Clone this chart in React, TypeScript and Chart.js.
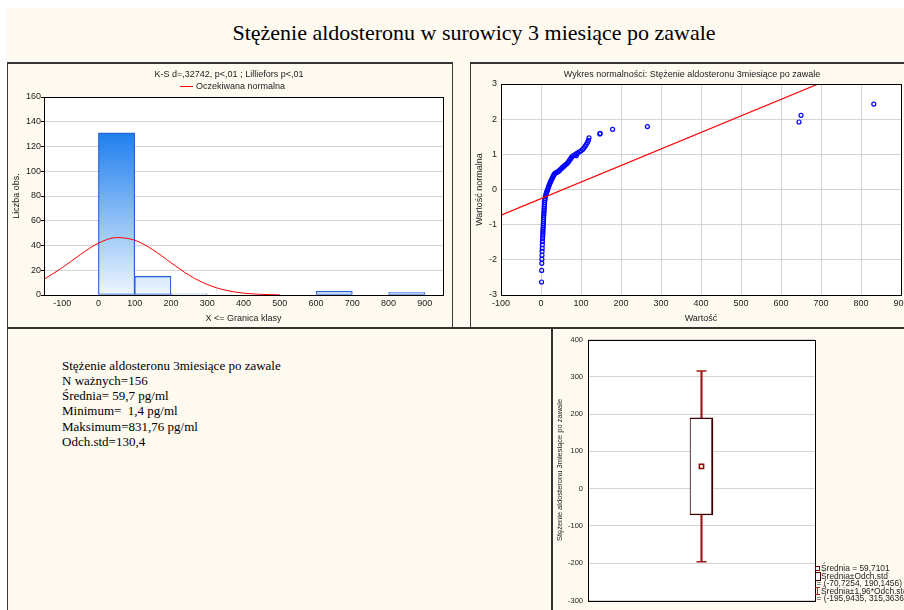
import React, { useEffect, useRef } from 'react';
import { Chart, registerables } from 'chart.js';

Chart.register(...registerables);

// ---------- Data ----------
const histBinCenters = [50, 150, 250, 650, 850];
const histCounts = [131, 15, 1, 3, 2];
const histXTicks = [-100, 0, 100, 200, 300, 400, 500, 600, 700, 800, 900];

const normalCurveX = [-150, -100, -50, 0, 50, 100, 150, 200, 250, 300, 350, 400, 450, 500];
const normalCurveY = [12.7, 22.0, 32.6, 41.9, 46.4, 44.3, 36.6, 26.1, 16.0, 8.5, 3.9, 1.5, 0.5, 0.15];

const probValues = [
  1.4, 1.7, 2.0, 2.2, 2.5, 2.7, 3.0, 3.3, 3.6, 3.9, 4.2, 4.5, 4.8, 5.0, 5.3, 5.6, 5.8, 6.1, 6.4, 6.7,
  7.0, 7.3, 7.6, 7.9, 8.2, 8.6, 9.0, 9.5, 10.0, 10.8, 11.7, 12.8, 14.0, 15.2, 16.5, 17.8, 19.2, 20.6,
  22.0, 23.5, 25.0, 26.7, 28.5, 30.0, 31.5, 33.0, 35.0, 38.0, 41.0, 44.0, 47.0, 50.0, 53.0, 56.0, 59.0,
  62.0, 65.0, 68.0, 70.0, 72.5, 75.0, 77.0, 80.0, 85.0, 88.0, 89.0, 92.0, 96.0, 100.0, 104.0, 107.0,
  110.0, 113.0, 116.0, 118.5, 120.0, 147.0, 148.0, 179.0, 266.0, 645.0, 650.0, 832.0,
];
const probScores = [
  -2.63, -2.30, -2.10, -1.98, -1.87, -1.76, -1.67, -1.57, -1.48, -1.40, -1.33, -1.27, -1.21, -1.15, -1.09,
  -1.03, -0.97, -0.91, -0.85, -0.79, -0.73, -0.67, -0.61, -0.55, -0.49, -0.43, -0.37, -0.31, -0.26, -0.21,
  -0.17, -0.12, -0.08, -0.04, 0.0, 0.04, 0.09, 0.13, 0.17, 0.21, 0.25, 0.29, 0.33, 0.37, 0.40, 0.43, 0.46,
  0.48, 0.50, 0.52, 0.55, 0.59, 0.62, 0.65, 0.68, 0.71, 0.74, 0.78, 0.81, 0.85, 0.89, 0.93, 0.96, 0.99,
  0.96, 1.02, 1.04, 1.07, 1.10, 1.14, 1.18, 1.23, 1.28, 1.34, 1.40, 1.47, 1.58, 1.60, 1.71, 1.79, 1.92,
  2.11, 2.43,
];
const refLineX = [-100, 693];
const refLineY = [-0.73, 3.0];

const boxMean = 59.7101;
const boxSdRange = [-70.7254, 190.1456];
const boxCiRange = [-195.9435, 315.3636];

const statsLines = [
  'Stężenie aldosteronu 3miesiące po zawale',
  'N ważnych=156',
  'Średnia= 59,7 pg/ml',
  'Minimum=  1,4 pg/ml',
  'Maksimum=831,76 pg/ml',
  'Odch.std=130,4',
];

// ---------- Helpers ----------
const SANS = "'Liberation Sans', Arial, sans-serif";
const SERIF = "'Liberation Serif', 'Times New Roman', serif";
Chart.defaults.font.family = SANS;
Chart.defaults.color = '#222';

function makeFrame(width: number) {
  return {
    id: 'frame',
    beforeDraw(chart: any) {
      const { ctx, chartArea: a } = chart;
      ctx.save();
      ctx.fillStyle = '#ffffff';
      ctx.fillRect(a.left, a.top, a.right - a.left, a.bottom - a.top);
      ctx.restore();
    },
    afterDraw(chart: any) {
      const { ctx, chartArea: a } = chart;
      ctx.save();
      ctx.strokeStyle = '#000';
      ctx.lineWidth = width;
      const off = width % 2 === 1 ? 0.5 : 0;
      const l = Math.round(a.left) + off, t = Math.round(a.top) + off;
      const r = Math.round(a.right) + off, b = Math.round(a.bottom) + off;
      ctx.strokeRect(l, t, r - l, b - t);
      ctx.restore();
    },
  };
}

const baseOpts = {
  responsive: false,
  animation: false as const,
  devicePixelRatio: 1,
  events: [] as any[],
};

export default function App() {
  const histRef = useRef<HTMLCanvasElement>(null);
  const probRef = useRef<HTMLCanvasElement>(null);
  const boxRef = useRef<HTMLCanvasElement>(null);

  useEffect(() => {
    const charts: Chart[] = [];
    const maxCount = Math.max(...histCounts);

    charts.push(
      new Chart(histRef.current!, {
        type: 'bar',
        data: {
          datasets: [
            {
              type: 'line',
              data: normalCurveX.map((x, i) => ({ x, y: normalCurveY[i] })),
              borderColor: '#ff0000',
              borderWidth: 1,
              pointRadius: 0,
              cubicInterpolationMode: 'monotone',
              fill: false,
            } as any,
            {
              type: 'bar',
              data: histBinCenters.map((x, i) => ({ x, y: histCounts[i] })),
              backgroundColor: (c: any) => {
                const chart = c.chart;
                if (!chart.chartArea) return '#8cc4fa';
                const ys = chart.scales.y;
                const g = chart.ctx.createLinearGradient(0, ys.getPixelForValue(maxCount), 0, ys.getPixelForValue(0));
                g.addColorStop(0, '#1f7fee');
                g.addColorStop(1, '#eef6ff');
                return g;
              },
              borderColor: '#2461d4',
              borderWidth: 1.2,
              borderSkipped: false,
              categoryPercentage: 1,
              barPercentage: 1,
              grouped: false,
            } as any,
          ],
        },
        options: {
          ...baseOpts,
          layout: { padding: { left: 0, top: 33, right: 8, bottom: 0 } },
          plugins: { legend: { display: false }, tooltip: { enabled: false } },
          scales: {
            x: {
              type: 'linear',
              min: -150,
              max: 950,
              offset: false,
              afterBuildTicks: (s: any) => {
                s.ticks = histXTicks.map((v) => ({ value: v }));
              },
              grid: { display: false, offset: false, drawTicks: false },
              border: { display: false },
              ticks: { font: { size: 9 }, padding: 3, maxRotation: 0, autoSkip: false },
              title: { display: true, text: 'X <= Granica klasy', font: { size: 9 }, padding: { top: 0, bottom: 3 } },
              afterFit: (s: any) => {
                s.height = 32;
              },
            },
            y: {
              min: 0,
              max: 160,
              ticks: { stepSize: 20, font: { size: 9 }, padding: 0 },
              grid: { color: '#d4d4d4', lineWidth: 1, drawTicks: true, tickLength: 3, tickColor: '#000' },
              border: { display: false },
              title: { display: true, text: 'Liczba obs.', font: { size: 9 }, padding: { top: 3, bottom: 0 } },
              afterFit: (s: any) => {
                s.width = 36;
              },
            },
          } as any,
        },
        plugins: [makeFrame(1)],
      })
    );

    charts.push(
      new Chart(probRef.current!, {
        type: 'scatter',
        data: {
          datasets: [
            {
              type: 'line',
              data: refLineX.map((x, i) => ({ x, y: refLineY[i] })),
              borderColor: '#ff0000',
              borderWidth: 1.2,
              pointRadius: 0,
              fill: false,
            } as any,
            {
              data: probValues.map((x, i) => ({ x, y: probScores[i] })),
              pointStyle: 'circle',
              pointRadius: 2,
              borderWidth: 1.2,
              borderColor: '#0000ff',
              backgroundColor: 'rgba(0,0,0,0)',
            } as any,
          ],
        },
        options: {
          ...baseOpts,
          layout: { padding: { left: 0, top: 20, right: 20, bottom: 0 } },
          plugins: { legend: { display: false }, tooltip: { enabled: false } },
          scales: {
            x: {
              type: 'linear',
              min: -100,
              max: 900,
              ticks: { stepSize: 100, font: { size: 9 }, padding: 3, maxRotation: 0, autoSkip: false },
              grid: { color: '#d4d4d4', lineWidth: 1, drawTicks: false },
              border: { display: false },
              title: { display: true, text: 'Wartość', font: { size: 9 }, padding: { top: 0, bottom: 3 } },
              afterFit: (s: any) => {
                s.height = 32;
              },
            },
            y: {
              type: 'linear',
              min: -3,
              max: 3,
              ticks: { stepSize: 1, font: { size: 9 }, padding: 4 },
              grid: { color: '#d4d4d4', lineWidth: 1, drawTicks: false },
              border: { display: false },
              title: { display: true, text: 'Wartość normalna', font: { size: 9 }, padding: { top: 3, bottom: 0 } },
              afterFit: (s: any) => {
                s.width = 30;
              },
            },
          } as any,
        },
        plugins: [makeFrame(1)],
      })
    );

    charts.push(
      new Chart(boxRef.current!, {
        type: 'bar',
        data: {
          labels: [''],
          datasets: [
            {
              type: 'line',
              data: [boxMean],
              showLine: false,
              pointStyle: 'rect',
              pointRadius: 3,
              borderColor: '#8b0000',
              backgroundColor: '#ffffff',
              borderWidth: 1.5,
            } as any,
            {
              type: 'bar',
              data: [boxSdRange],
              backgroundColor: '#ffffff',
              borderColor: '#3a0000',
              borderWidth: { left: 1, top: 1.5, bottom: 1.5, right: 2 },
              borderSkipped: false,
              barThickness: 23,
              grouped: false,
            } as any,
            {
              type: 'line',
              data: [boxCiRange[1]],
              showLine: false,
              pointStyle: 'line',
              pointRadius: 5,
              borderColor: '#a01818',
              borderWidth: 1.5,
            } as any,
            {
              type: 'line',
              data: [boxCiRange[0]],
              showLine: false,
              pointStyle: 'line',
              pointRadius: 5,
              borderColor: '#a01818',
              borderWidth: 1.5,
            } as any,
            {
              type: 'bar',
              data: [boxCiRange],
              backgroundColor: '#a01818',
              borderWidth: 0,
              barThickness: 1.5,
              grouped: false,
            } as any,
          ],
        },
        options: {
          ...baseOpts,
          layout: { padding: { left: 0, top: 7, right: 89, bottom: 5 } },
          plugins: { legend: { display: false }, tooltip: { enabled: false } },
          scales: {
            x: { display: false },
            y: {
              min: -300,
              max: 400,
              ticks: { stepSize: 100, font: { size: 7.5 }, padding: 5 },
              grid: { color: '#d4d4d4', lineWidth: 1, drawTicks: false },
              border: { display: false },
              title: {
                display: true,
                text: 'Stężenie aldosteronu 3miesiące po zawale',
                font: { size: 7.5 },
                padding: { top: 2.5, bottom: 0 },
              },
              afterFit: (s: any) => {
                s.width = 35;
              },
            },
          } as any,
        },
        plugins: [makeFrame(1)],
      })
    );

    return () => charts.forEach((c) => c.destroy());
  }, []);

  const abs = (o: React.CSSProperties): React.CSSProperties => ({ position: 'absolute', ...o });
  const panelBorder = '1px solid #3a3a3a';
  const legendText: React.CSSProperties = {
    fontSize: '8.4px',
    lineHeight: '8px',
    whiteSpace: 'nowrap',
    color: '#222',
    fontFamily: SANS,
  };

  return (
    <div style={abs({ left: 0, top: 0, width: 904, height: 610, overflow: 'hidden', background: '#ffffff', fontFamily: SANS })}>
      <div style={abs({ left: 7, top: 8, width: 1000, height: 700, background: '#fffaf0' })} />

      <div
        style={abs({
          left: 174,
          top: 20,
          width: 600,
          textAlign: 'center',
          fontFamily: SERIF,
          fontSize: 22,
          lineHeight: '26px',
          color: '#000',
          whiteSpace: 'nowrap',
        })}
      >
        Stężenie aldosteronu w surowicy 3 miesiące po zawale
      </div>

      {/* Panel frames */}
      <div style={abs({ left: 7, top: 62, width: 446, height: 267, boxSizing: 'border-box', border: panelBorder, borderTop: '2px solid #333' })} />
      <div style={abs({ left: 470, top: 62, width: 460, height: 267, boxSizing: 'border-box', border: panelBorder, borderTop: '2px solid #333' })} />
      <div style={abs({ left: 7, top: 327, width: 546, height: 300, boxSizing: 'border-box', borderTop: '2px solid #333', borderLeft: panelBorder })} />
      <div style={abs({ left: 551, top: 327, width: 400, height: 300, boxSizing: 'border-box', borderTop: '2px solid #333', borderLeft: '2px solid #333' })} />

      {/* Panel 1 */}
      <canvas ref={histRef} width={443} height={263} style={abs({ left: 8, top: 64, display: 'block' })} />
      <div style={abs({ left: 29, top: 68.5, width: 400, textAlign: 'center', fontSize: 9, lineHeight: '11px', color: '#222', whiteSpace: 'nowrap' })}>
        K-S d=,32742, p&lt;,01 ; Lilliefors p&lt;,01
      </div>
      <div style={abs({ left: 180, top: 85.5, width: 13, height: 1, background: '#ff0000' })} />
      <div style={abs({ left: 196, top: 80.5, fontSize: 9, lineHeight: '11px', color: '#222', whiteSpace: 'nowrap' })}>Oczekiwana normalna</div>

      {/* Panel 2 */}
      <canvas ref={probRef} width={450} height={263} style={abs({ left: 471, top: 64, display: 'block' })} />
      <div style={abs({ left: 492, top: 68.5, width: 400, textAlign: 'center', fontSize: 9, lineHeight: '11px', color: '#222', whiteSpace: 'nowrap' })}>
        Wykres normalności: Stężenie aldosteronu 3miesiące po zawale
      </div>

      {/* Panel 3 */}
      <div style={abs({ left: 62, top: 357.5, fontFamily: SERIF, fontSize: 13, lineHeight: '15.3px', color: '#000', whiteSpace: 'pre' })}>
        {statsLines.map((l, i) => (
          <div key={i}>{l}</div>
        ))}
      </div>

      {/* Panel 4 */}
      <canvas ref={boxRef} width={351} height={280} style={abs({ left: 553, top: 330, display: 'block' })} />
      <div style={abs({ left: 815, top: 566.3, width: 3, height: 3, border: '1px solid #8b0000', background: '#fff' })} />
      <div style={abs({ ...legendText, left: 821, top: 564.3 })}>Średnia = 59,7101</div>
      <div style={abs({ left: 814.5, top: 571.5, width: 4, height: 7, border: '1px solid #3a0000', background: '#fff' })} />
      <div style={abs({ ...legendText, left: 821, top: 571.7 })}>Średnia±Odch.std</div>
      <div style={abs({ ...legendText, left: 816.5, top: 579.3 })}>= (-70,7254, 190,1456)</div>
      <div style={abs({ left: 817, top: 586.5, width: 1, height: 8, background: '#c02020' })} />
      <div style={abs({ left: 815, top: 586.5, width: 5, height: 1, background: '#c02020' })} />
      <div style={abs({ left: 815, top: 593.5, width: 5, height: 1, background: '#c02020' })} />
      <div style={abs({ ...legendText, left: 821, top: 586.7 })}>Średnia±1,96*Odch.std</div>
      <div style={abs({ ...legendText, left: 816.5, top: 593.7 })}>= (-195,9435, 315,3636)</div>
    </div>
  );
}
